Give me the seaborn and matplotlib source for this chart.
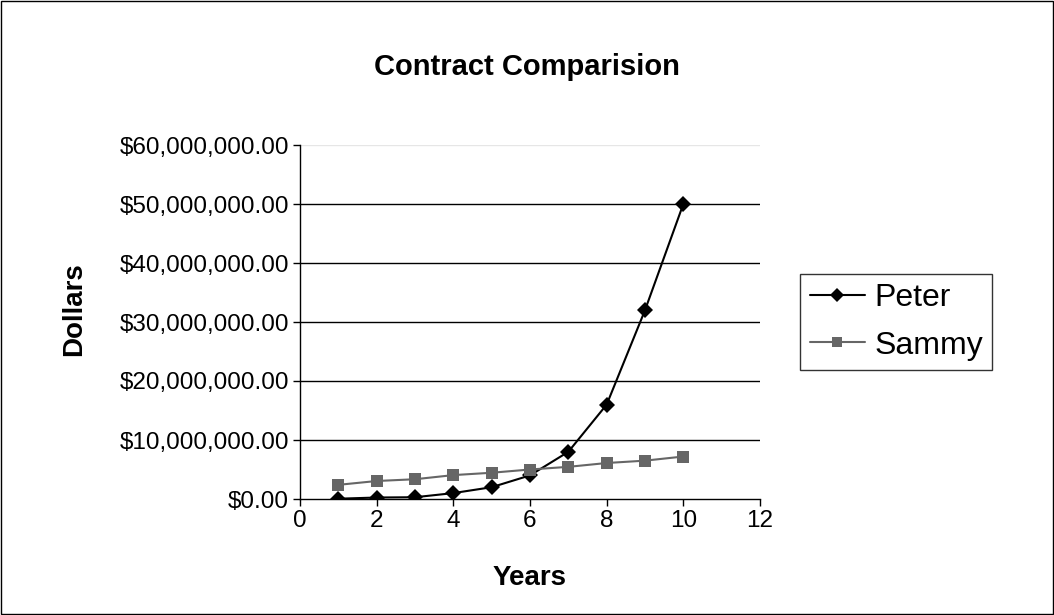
import pandas as pd
import numpy as np
import matplotlib.pyplot as plt
import seaborn as sns
from matplotlib.ticker import FuncFormatter

years = [1, 2, 3, 4, 5, 6, 7, 8, 9, 10]
peter = [0.05e6, 0.25e6, 0.3e6, 1.0e6, 2.0e6, 4.0e6, 8.0e6, 16.0e6, 32.0e6, 50.0e6]
sammy = [2.4e6, 3.05e6, 3.35e6, 4.05e6, 4.45e6, 5.0e6, 5.45e6, 6.1e6, 6.5e6, 7.2e6]

data = pd.DataFrame({
    'Years': years * 2,
    'Dollars': peter + sammy,
    'who': ['Peter'] * len(years) + ['Sammy'] * len(years),
})

sns.set_style('white')
plt.rcParams['font.family'] = ['Liberation Sans', 'DejaVu Sans']
plt.rcParams['text.color'] = 'black'
plt.rcParams['axes.labelcolor'] = 'black'
plt.rcParams['xtick.color'] = 'black'
plt.rcParams['ytick.color'] = 'black'

fig = plt.figure(figsize=(10.54, 6.15), dpi=100)
ax = fig.add_axes([300 / 1054, 1 - 499 / 615, 460 / 1054, 354 / 615])

sns.lineplot(data=data, x='Years', y='Dollars', hue='who', style='who',
             markers={'Peter': 'D', 'Sammy': 's'}, dashes=False,
             palette={'Peter': '#000000', 'Sammy': '#666666'},
             markersize=8, markeredgewidth=0, linewidth=1.5, ax=ax)

ax.set_xlim(0, 12)
ax.set_ylim(0, 60e6)
ax.set_xticks(range(0, 13, 2))
ax.set_yticks(np.arange(0, 60e6 + 1, 10e6))
ax.yaxis.set_major_formatter(FuncFormatter(lambda v, p: '${:,.2f}'.format(v)))
ax.tick_params(axis='both', labelsize=17.5, length=5, width=1, color='black', direction='out',
               left=True, bottom=True, pad=3)

for v in np.arange(10e6, 50e6 + 1, 10e6):
    ax.axhline(v, color='black', linewidth=1, zorder=0)
ax.axhline(60e6, color='#e6e6e6', linewidth=1, zorder=0)

for s in ['top', 'right']:
    ax.spines[s].set_visible(False)
for s in ['left', 'bottom']:
    ax.spines[s].set_color('black')
    ax.spines[s].set_linewidth(1)

ax.set_xlabel('Years', fontsize=20, fontweight='bold', labelpad=24)
ax.set_ylabel('Dollars', fontsize=20, fontweight='bold')
ax.yaxis.set_label_coords((87 - 300) / 460, (499 - 309) / 354)
fig.text(527 / 1054, 1 - 67 / 615, 'Contract Comparision', fontsize=21, fontweight='bold',
         ha='center', va='center')

leg = ax.legend(loc='center left', bbox_to_anchor=(500 / 460, 0.5), borderaxespad=0,
                fontsize=23, frameon=True, fancybox=False, edgecolor='black',
                handlelength=1.72, borderpad=0.3, labelspacing=0.54, handletextpad=0.3,
                markerscale=0.9, title=None)
leg.get_frame().set_linewidth(1)

fig.patches.append(plt.Rectangle((0.001, 0.001), 0.998, 0.997, transform=fig.transFigure,
                                 fill=False, edgecolor='black', linewidth=1))

fig.savefig('out.png', dpi=100)
